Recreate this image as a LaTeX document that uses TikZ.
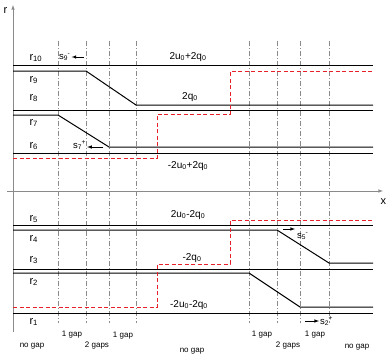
\documentclass[tikz,border=0pt]{standalone}
\usepackage{fontspec}
\setmainfont{Liberation Sans}
\definecolor{jumpred}{HTML}{E8202A}
\definecolor{axisgray}{HTML}{8A8A8A}
\newcommand{\lev}[1]{r\textsubscript{#1}}
\newcommand{\shk}[2]{s\textsubscript{#1}\kern-0.5pt\textsuperscript{#2}}

\begin{document}
\begin{tikzpicture}[x=1pt,y=-1pt,
  level/.style={line width=1pt},
  gapline/.style={axisgray,line width=0.5pt,dash pattern=on 5pt off 2pt on 1pt off 2pt},
  jump/.style={jumpred,line width=1pt,dash pattern=on 4pt off 2.5pt},
  axis/.style={axisgray,line width=0.6pt,-latex},
  shock/.style={line width=0.6pt,-latex},
  lvl/.style={font=\fontsize{11}{13}\selectfont,anchor=west},
  val/.style={font=\fontsize{10}{12}\selectfont},
  wave/.style={font=\fontsize{9.5}{11}\selectfont,inner sep=1pt},
  gap/.style={font=\fontsize{8}{10}\selectfont}]
\useasboundingbox (0,0) rectangle (388,356);
% axes
\draw[axis] (13,332) -- (13,5);
\draw[axis] (7,191) -- (383,191);
\node[lvl] (rlab) at (0,11) {r};
\node[lvl] (xlab) at (377,202) {x};
% gap boundaries
\foreach \xg in {58,86,109,136,249,277,300,329}
  \draw[gapline] (\xg,41) -- (\xg,323);
% upper states
\draw[level] (13,65) -- (373,65);
\draw[level] (13,71) -- (86,71) -- (136,105) -- (373,105);
\draw[level] (13,110) -- (373,110);
\draw[level] (13,115) -- (58,115) -- (109,147) -- (373,147);
\draw[level] (13,153) -- (373,153);
\draw[jump] (13,158) -- (157,158) -- (157,114) -- (230,114) -- (230,71) -- (373,71);
% lower states
\draw[level] (13,225) -- (373,225);
\draw[level] (13,230) -- (277,230) -- (329,263) -- (373,263);
\draw[level] (13,269) -- (373,269);
\draw[level] (13,273) -- (249,273) -- (300,307) -- (373,307);
\draw[level] (13,313) -- (373,313);
\draw[jump] (13,307) -- (157,307) -- (157,264) -- (230,264) -- (230,220) -- (373,220);
% level names
\node[lvl] (r10) at (26,58) {\lev{10}};
\node[lvl] (r9) at (26,80) {\lev{9}};
\node[lvl] (r8) at (26,98) {\lev{8}};
\node[lvl] (r7) at (26,123) {\lev{7}};
\node[lvl] (r6) at (26,146) {\lev{6}};
\node[lvl] (r5) at (26,219) {\lev{5}};
\node[lvl] (r4) at (26,239) {\lev{4}};
\node[lvl] (r3) at (26,260) {\lev{3}};
\node[lvl] (r2) at (26,282) {\lev{2}};
\node[lvl] (r1) at (26,322) {\lev{1}};
% values
\node[val] (v1) at (188,57) {2u\textsubscript{0}+2q\textsubscript{0}};
\node[val] (v2) at (190,97) {2q\textsubscript{0}};
\node[val] (v3) at (188,166) {-2u\textsubscript{0}+2q\textsubscript{0}};
\node[val] (v4) at (188,215) {2u\textsubscript{0}-2q\textsubscript{0}};
\node[val] (v5) at (192,258) {-2q\textsubscript{0}};
\node[val] (v6) at (189,305) {-2u\textsubscript{0}-2q\textsubscript{0}};
% shocks
\node[wave,anchor=west] (s9) at (58,57) {\shk{9}{-}};
\coordinate (s9a) at (84,57);
\draw[shock] (s9a) -- (s9.east);
\node[wave,anchor=west] (s7) at (72,145) {\shk{7}{+}};
\coordinate (s7a) at (103,147);
\draw[shock] (s7a) -- (s7.east |- s7a);
\node[wave,anchor=west] (s5) at (296,236) {\shk{5}{-}};
\coordinate (s5a) at (283,229);
\coordinate (s5b) at (295,229);
\draw[shock] (s5a) -- (s5b);
\node[wave,anchor=west] (s2) at (319,321) {\shk{2}{+}};
\coordinate (s2a) at (305,321);
\draw[shock] (s2a) -- (s2.west);
% gap counts
\node[gap] (g1) at (32,346) {no gap};
\node[gap] (g2) at (72,335) {1 gap};
\node[gap] (g3) at (97,346) {2 gaps};
\node[gap] (g4) at (123,336) {1 gap};
\node[gap] (g5) at (192,351) {no gap};
\node[gap] (g6) at (262,335) {1 gap};
\node[gap] (g7) at (288,346) {2 gaps};
\node[gap] (g8) at (315,335) {1 gap};
\node[gap] (g9) at (357,347) {no gap};
\end{tikzpicture}
\end{document}
